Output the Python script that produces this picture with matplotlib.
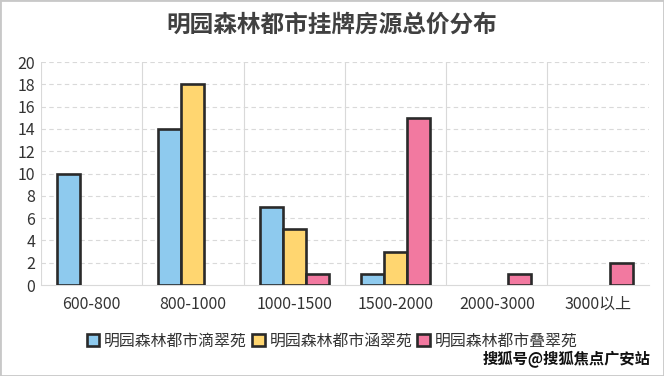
import matplotlib
matplotlib.use("Agg")
import matplotlib.pyplot as plt
import numpy as np
from matplotlib.patches import Rectangle

plt.rcParams['font.family'] = ['Noto Sans CJK SC', 'DejaVu Sans']

categories = ["600-800", "800-1000", "1000-1500", "1500-2000", "2000-3000", "3000以上"]
series_names = ["明园森林都市滴翠苑", "明园森林都市涵翠苑", "明园森林都市叠翠苑"]
s1 = [10, 14, 7, 1, 0, 0]
s2 = [0, 18, 5, 3, 0, 0]
s3 = [0, 0, 1, 15, 1, 2]
colors = ["#8ECAEE", "#FFD670", "#F279A0"]
title = "明园森林都市挂牌房源总价分布"
yticks = list(range(0, 21, 2))

fig = plt.figure(figsize=(6.64, 3.76), dpi=100)
ax = fig.add_axes([0.0617, 0.242, 0.9153, 0.593])

x = np.arange(len(categories))
w = 0.227
for i, (vals, c, name) in enumerate(zip([s1, s2, s3], colors, series_names)):
    v = np.array(vals, dtype=float)
    mask = v > 0
    ax.bar(x[mask] + (i - 1) * w, v[mask], width=w, color=c, edgecolor="#2a2a2a",
           linewidth=1.9, label=name, zorder=3)

ax.set_xlim(-0.5, len(categories) - 0.5)
ax.set_ylim(0, 20)
ax.set_yticks(yticks)
ax.set_xticks(x)
ax.set_xticklabels(categories)
ax.tick_params(axis='both', length=0, labelsize=11.5, colors="#333333")
ax.tick_params(axis='x', pad=8)
ax.tick_params(axis='y', pad=4)
for yv in yticks[1:]:
    ax.axhline(yv, color="#d9d9d9", linestyle=(0, (4, 3)), linewidth=0.8, zorder=1)
for b in np.arange(0.5, len(categories) - 0.5, 1.0):
    ax.axvline(b, color="#d9d9d9", linewidth=0.8, zorder=1)
ax.axvline(-0.5, color="#d9d9d9", linewidth=0.8, zorder=1)
for s in ["top", "right", "left"]:
    ax.spines[s].set_visible(False)
ax.spines["bottom"].set_color("#d9d9d9")
ax.spines["bottom"].set_linewidth(0.8)

fig.text(0.5, 0.935, title, ha="center", va="center", fontsize=17, fontweight="bold", color="#404040")

leg = fig.legend(loc="center", bbox_to_anchor=(0.5, 0.093), ncol=3, frameon=False,
                 fontsize=11.4, handlelength=0.8, handleheight=0.8, handletextpad=0.3,
                 columnspacing=0.3, labelcolor="#333333")

fig.text(0.98, 0.045, "搜狐号@搜狐焦点广安站", ha="right", va="center", fontsize=11,
         fontweight="bold", color="#111111")

fig.patches.append(Rectangle((0, 0), 1, 1, transform=fig.transFigure, fill=False,
                             edgecolor="#c8c8c8", linewidth=2))

fig.savefig("out.png", dpi=100)
